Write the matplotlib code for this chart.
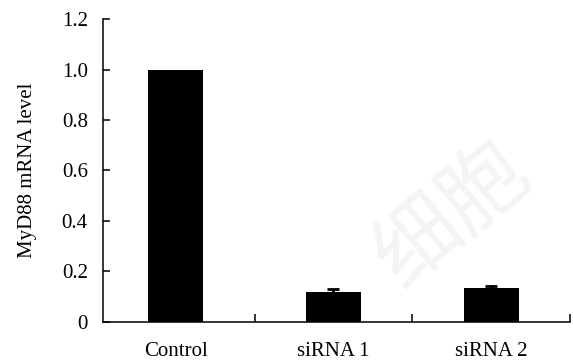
import matplotlib
matplotlib.use("Agg")
from matplotlib import pyplot as plt

groups = ["Control", "siRNA 1", "siRNA 2"]
level = [1.0, 0.118, 0.133]
err = [0.0, 0.011, 0.010]
yticks = [0, 0.2, 0.4, 0.6, 0.8, 1.0, 1.2]
ytick_labels = ["0", "0.2", "0.4", "0.6", "0.8", "1.0", "1.2"]

plt.rcParams['font.family'] = ['Liberation Serif', 'DejaVu Serif']

fig = plt.figure(figsize=(5.73, 3.63), dpi=100)
ax = fig.add_axes([0.18, 0.114, 0.815, 0.833])

pos = list(range(len(groups)))
ax.bar(pos, level, width=0.35, color="black")
ax.errorbar(pos[1:], level[1:], yerr=err[1:], fmt="none", ecolor="black",
            elinewidth=2, capsize=4.5, capthick=2)

# faint watermark
ax.text(1.75, 0.42, "细胞", fontsize=62, color="#f4f4f4", rotation=40,
        ha="center", va="center", family=["Noto Sans CJK SC", "DejaVu Sans"],
        zorder=0)

ax.set_xlim(-0.46, 2.5)
ax.set_ylim(0, 1.2)
ax.set_yticks(yticks)
ax.set_yticklabels(ytick_labels, fontsize=15)
ax.set_xticks(pos)
ax.set_xticklabels(groups, fontsize=15)
ax.set_xticks([0.5, 1.5, 2.5], minor=True)
ax.tick_params(axis="x", which="major", length=0, pad=15)
ax.tick_params(axis="x", which="minor", direction="in", length=6, width=1.1)
ax.tick_params(axis="y", direction="in", length=5, width=1.1, pad=11)
ax.spines["top"].set_visible(False)
ax.spines["right"].set_visible(False)
for s in ["left", "bottom"]:
    ax.spines[s].set_linewidth(1.1)
ax.set_ylabel("MyD88 mRNA level", fontsize=15, labelpad=18)

fig.savefig("out.png", dpi=100)
